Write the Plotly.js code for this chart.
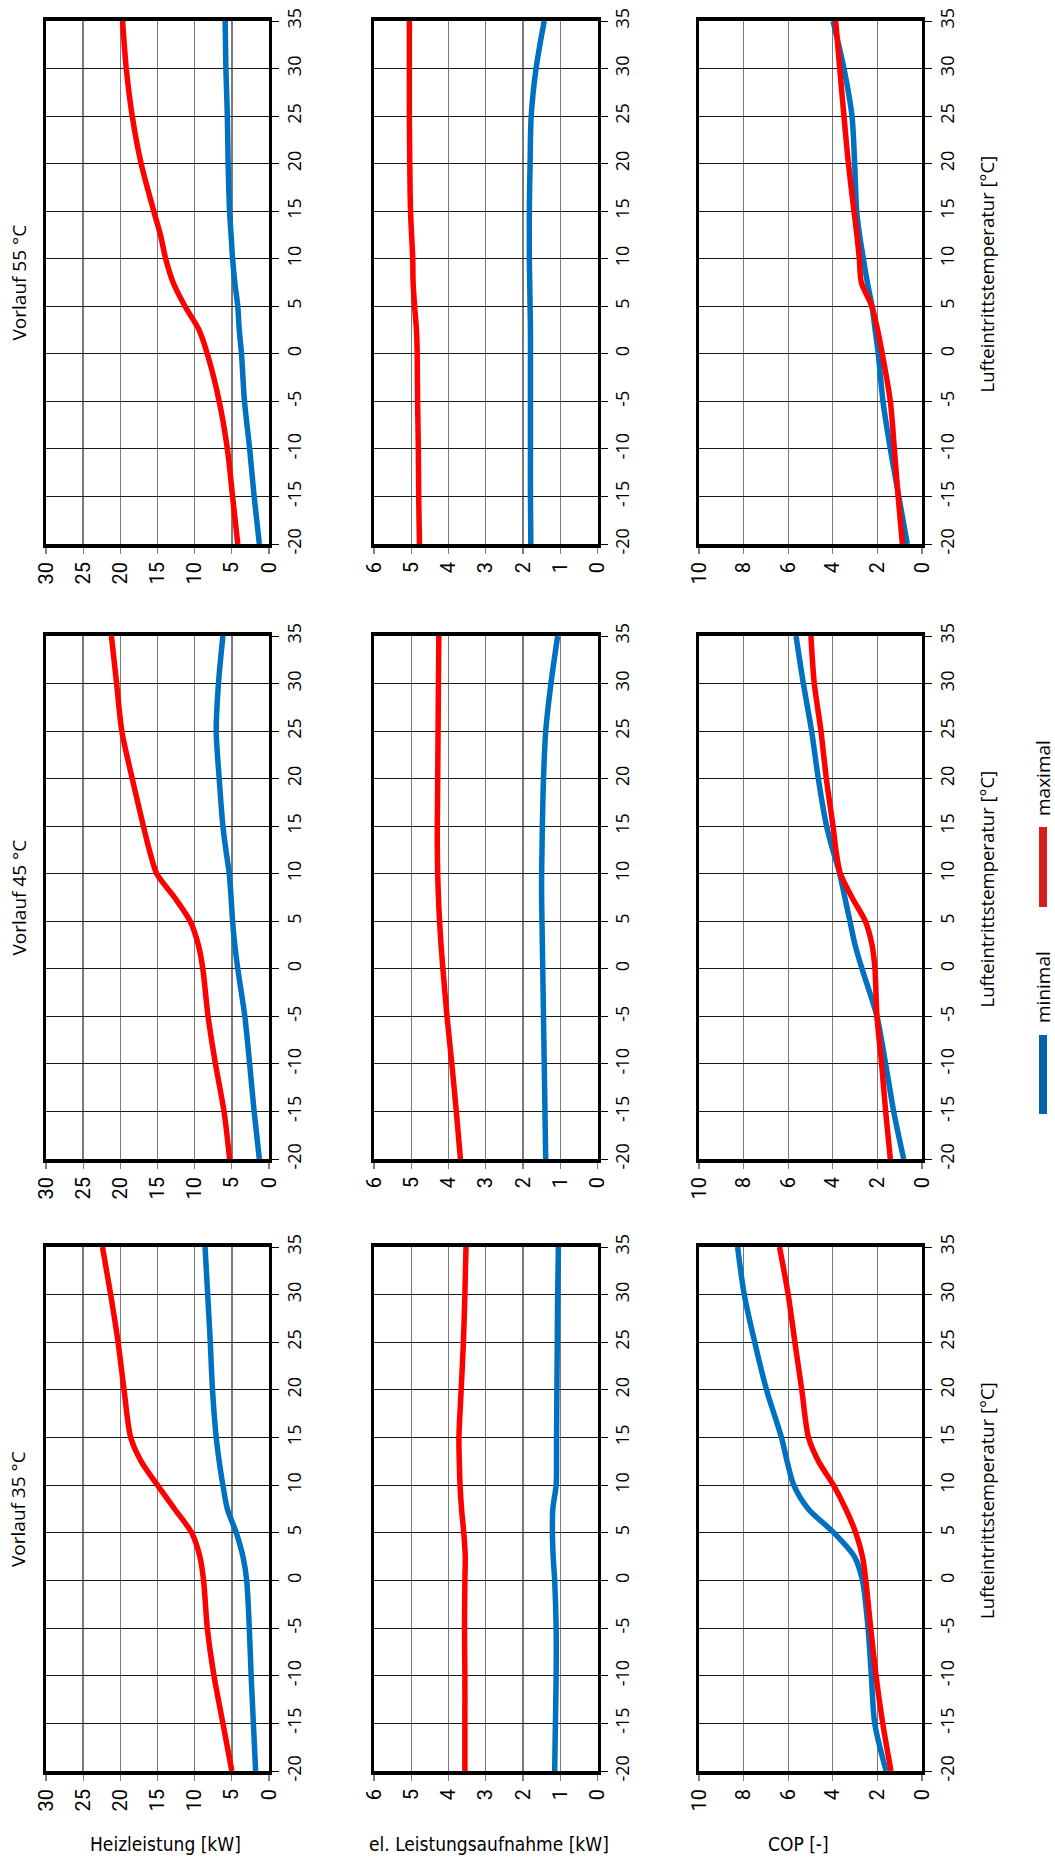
<!DOCTYPE html>
<html>
<head>
<meta charset="utf-8">
<script src="https://cdn.plot.ly/plotly-3.0.1.min.js"></script>
<style>
html,body{margin:0;padding:0;background:#fff;}
#chart{width:1055px;height:1859px;}
</style>
</head>
<body>
<div id="chart"></div>
<script>
// ---------- DATA ----------
const temps = [-20, -15, -10, -5, 0, 2.5, 5, 7.5, 10, 12.5, 15, 20, 25, 30, 35];
const tempTicks = [-20, -15, -10, -5, 0, 5, 10, 15, 20, 25, 30, 35];
const tempTickLabels = ['-20', '-15', '-10', '-5', '0', '5', '10', '15', '20', '25', '30', '35'];

const heizTicks = [0, 5, 10, 15, 20, 25, 30];
const heizTickLabels = ['0', '5', '10', '15', '20', '25', '30'];
const elTicks = [0, 1, 2, 3, 4, 5, 6];
const elTickLabels = ['0', '1', '2', '3', '4', '5', '6'];
const copTicks = [0, 2, 4, 6, 8, 10];
const copTickLabels = ['0', '2', '4', '6', '8', '10'];

const rowLabels = ['Vorlauf 55 °C', 'Vorlauf 45 °C', 'Vorlauf 35 °C'];
const columnLabels = ['Heizleistung [kW]', 'el. Leistungsaufnahme [kW]', 'COP [-]'];
const tempAxisLabel = 'Lufteintrittstemperatur [°C]';
const seriesNames = ['minimal', 'maximal'];

// Vorlauf 55 °C
const heiz55Max = [4.2, 4.9, 5.6, 6.7, 8.3, 9.4, 11.3, 12.9, 13.9, 14.6, 15.5, 17.2, 18.4, 19.2, 19.7];
const heiz55Min = [1.3, 2.0, 2.6, 3.3, 3.7, 4.0, 4.2, 4.6, 4.9, 5.1, 5.3, 5.5, 5.6, 5.8, 5.9];
const el55Max = [4.78, 4.80, 4.81, 4.83, 4.84, 4.86, 4.91, 4.95, 4.96, 4.99, 5.02, 5.04, 5.05, 5.05, 5.05];
const el55Min = [1.79, 1.80, 1.80, 1.80, 1.80, 1.80, 1.81, 1.82, 1.83, 1.83, 1.83, 1.81, 1.78, 1.65, 1.43];
const cop55Max = [0.88, 1.07, 1.24, 1.42, 1.78, 1.99, 2.25, 2.72, 2.81, 2.92, 3.05, 3.3, 3.5, 3.69, 3.87];
const cop55Min = [0.66, 1.04, 1.42, 1.75, 1.96, 2.1, 2.24, 2.45, 2.63, 2.8, 2.93, 3.02, 3.14, 3.5, 3.99];

// Vorlauf 45 °C
const heiz45Max = [5.3, 6.05, 7.2, 8.2, 8.9, 9.5, 10.6, 12.7, 15.1, 16.1, 16.9, 18.4, 19.8, 20.5, 21.2];
const heiz45Min = [1.3, 2.0, 2.6, 3.25, 4.2, 4.6, 4.9, 5.1, 5.35, 5.8, 6.2, 6.7, 7.1, 6.8, 6.2];
const el45Max = [3.68, 3.79, 3.91, 4.04, 4.15, 4.2, 4.24, 4.27, 4.29, 4.3, 4.3, 4.29, 4.28, 4.27, 4.26];
const el45Min = [1.39, 1.41, 1.43, 1.45, 1.47, 1.48, 1.49, 1.5, 1.5, 1.49, 1.48, 1.45, 1.39, 1.25, 1.07];
const cop45Max = [1.42, 1.63, 1.81, 2.02, 2.11, 2.24, 2.54, 3.14, 3.66, 3.86, 3.99, 4.29, 4.53, 4.83, 4.98];
const cop45Min = [0.82, 1.27, 1.63, 2.02, 2.69, 3.0, 3.23, 3.46, 3.69, 4.0, 4.28, 4.65, 4.95, 5.32, 5.65];

// Vorlauf 35 °C
const heiz35Max = [5.0, 6.2, 7.4, 8.3, 8.8, 9.3, 10.4, 12.7, 15.0, 17.2, 18.6, 19.5, 20.3, 21.3, 22.4];
const heiz35Min = [1.8, 2.1, 2.4, 2.65, 3.0, 3.5, 4.4, 5.6, 6.2, 6.7, 7.1, 7.6, 7.9, 8.25, 8.6];
const el35Max = [3.56, 3.56, 3.56, 3.57, 3.56, 3.55, 3.59, 3.65, 3.69, 3.71, 3.72, 3.66, 3.6, 3.56, 3.53];
const el35Min = [1.15, 1.13, 1.11, 1.11, 1.15, 1.19, 1.21, 1.2, 1.11, 1.1, 1.1, 1.09, 1.08, 1.07, 1.05];
const cop35Max = [1.39, 1.76, 2.06, 2.3, 2.52, 2.67, 2.97, 3.42, 3.97, 4.64, 5.09, 5.39, 5.7, 6.0, 6.39];
const cop35Min = [1.61, 2.12, 2.27, 2.42, 2.67, 3.03, 3.95, 5.1, 5.75, 6.05, 6.3, 6.97, 7.5, 7.97, 8.27];

// ---------- LAYOUT GEOMETRY (pixels) ----------
const W = 1055, H = 1859;
const colPx = [[46, 269], [374, 597.5], [699, 922]];
const rowPx = [[21, 544], [636, 1159], [1247, 1771]];
const colLabelCenters = [130, 489, 798];
const colLabelShift = [35, 0, 0];
const colLabelY = 1844;
const vorlaufLabelX = 18;
const tempLabelX = 986;
const legendX = 1043;

const minColor = '#0070C0';
const maxColor = '#FF0000';

const rowData = [
  [[heiz55Min, heiz55Max], [el55Min, el55Max], [cop55Min, cop55Max]],
  [[heiz45Min, heiz45Max], [el45Min, el45Max], [cop45Min, cop45Max]],
  [[heiz35Min, heiz35Max], [el35Min, el35Max], [cop35Min, cop35Max]]
];
const valueRanges = [[30, 0], [6, 0], [10, 0]];
const valueTicks = [heizTicks, elTicks, copTicks];
const valueTickLabels = [heizTickLabels, elTickLabels, copTickLabels];

const px2x = p => p / W;
const px2y = p => 1 - p / H;

const traces = [];
const layout = {
  width: W, height: H,
  margin: {l: 0, r: 0, t: 0, b: 0, pad: 0},
  paper_bgcolor: '#ffffff',
  plot_bgcolor: '#ffffff',
  showlegend: false,
  font: {family: 'Open Sans, sans-serif', color: '#000'},
  annotations: [],
  shapes: []
};

for (let r = 0; r < 3; r++) {
  for (let c = 0; c < 3; c++) {
    const n = r * 3 + c + 1;
    const xName = n === 1 ? 'x' : 'x' + n;
    const yName = n === 1 ? 'y' : 'y' + n;
    const xKey = n === 1 ? 'xaxis' : 'xaxis' + n;
    const yKey = n === 1 ? 'yaxis' : 'yaxis' + n;
    const [minS, maxS] = rowData[r][c];
    traces.push({
      type: 'scatter', mode: 'lines', x: minS, y: temps, name: seriesNames[0],
      xaxis: xName, yaxis: yName, hoverinfo: 'skip', cliponaxis: true,
      line: {color: minColor, width: 5.5, shape: 'spline', smoothing: 0.8}
    });
    traces.push({
      type: 'scatter', mode: 'lines', x: maxS, y: temps, name: seriesNames[1],
      xaxis: xName, yaxis: yName, hoverinfo: 'skip', cliponaxis: true,
      line: {color: maxColor, width: 5.5, shape: 'spline', smoothing: 0.8}
    });
    layout[xKey] = {
      domain: [px2x(colPx[c][0]), px2x(colPx[c][1])],
      anchor: yName,
      range: valueRanges[c],
      tickmode: 'array', tickvals: valueTicks[c], ticktext: valueTickLabels[c],
      tickangle: -90,
      ticks: 'outside', ticklen: 6, tickwidth: 1.3, tickcolor: '#7f7f7f',
      showgrid: true, gridcolor: '#7a7a7a', gridwidth: 1.4,
      zeroline: false,
      showline: true, linecolor: '#000', linewidth: 4, mirror: true,
      tickfont: {family: 'Roboto, sans-serif', size: 20, color: '#000'},
      automargin: false, fixedrange: true
    };
    layout[yKey] = {
      domain: [px2y(rowPx[r][1]), px2y(rowPx[r][0])],
      anchor: xName,
      side: 'right',
      range: [-20, 35],
      tickmode: 'array', tickvals: tempTicks, ticktext: tempTickLabels,
      tickangle: -90,
      ticks: 'outside', ticklen: 7, tickwidth: 1, tickcolor: '#000',
      showgrid: true, gridcolor: '#1a1a1a', gridwidth: 1,
      zeroline: false,
      showline: true, linecolor: '#000', linewidth: 3, mirror: true,
      tickfont: {family: 'Open Sans, sans-serif', size: 18, color: '#000'},
      automargin: false, fixedrange: true
    };
  }
  const rowCenter = (rowPx[r][0] + rowPx[r][1]) / 2;
  layout.annotations.push({
    xref: 'paper', yref: 'paper', x: px2x(vorlaufLabelX), y: px2y(rowCenter),
    text: rowLabels[r], showarrow: false, textangle: -90,
    xanchor: 'center', yanchor: 'middle',
    font: {family: 'Open Sans, sans-serif', size: 19, color: '#000'}
  });
  layout.annotations.push({
    xref: 'paper', yref: 'paper', x: px2x(tempLabelX), y: px2y(rowCenter - 8),
    text: tempAxisLabel, showarrow: false, textangle: -90,
    xanchor: 'center', yanchor: 'middle',
    font: {family: 'Open Sans, sans-serif', size: 18.5, color: '#000'}
  });
}

for (let c = 0; c < 3; c++) {
  layout.annotations.push({
    xref: 'paper', yref: 'paper', x: px2x(colLabelCenters[c] + colLabelShift[c]), y: px2y(colLabelY),
    text: columnLabels[c], showarrow: false,
    xanchor: 'center', yanchor: 'middle',
    font: {family: 'Liberation Sans Narrow, DejaVu Sans Condensed, sans-serif', size: 19, color: '#000'}
  });
}

// Legend (rotated like the rest of the chart)
const legendItems = [
  {name: seriesNames[0], color: '#0563AD', bar: [1035, 1114], textCenter: 987},
  {name: seriesNames[1], color: '#D42020', bar: [827, 907], textCenter: 778}
];
legendItems.forEach(it => {
  layout.shapes.push({
    type: 'rect', xref: 'paper', yref: 'paper',
    x0: px2x(legendX - 4), x1: px2x(legendX + 4),
    y0: px2y(it.bar[1]), y1: px2y(it.bar[0]),
    fillcolor: it.color, line: {width: 0}
  });
  layout.annotations.push({
    xref: 'paper', yref: 'paper', x: px2x(legendX), y: px2y(it.textCenter),
    text: it.name, showarrow: false, textangle: -90,
    xanchor: 'center', yanchor: 'middle',
    font: {family: 'Open Sans, sans-serif', size: 19, color: '#000'}
  });
});

Plotly.newPlot('chart', traces, layout, {staticPlot: true, displayModeBar: false});
</script>
</body>
</html>
